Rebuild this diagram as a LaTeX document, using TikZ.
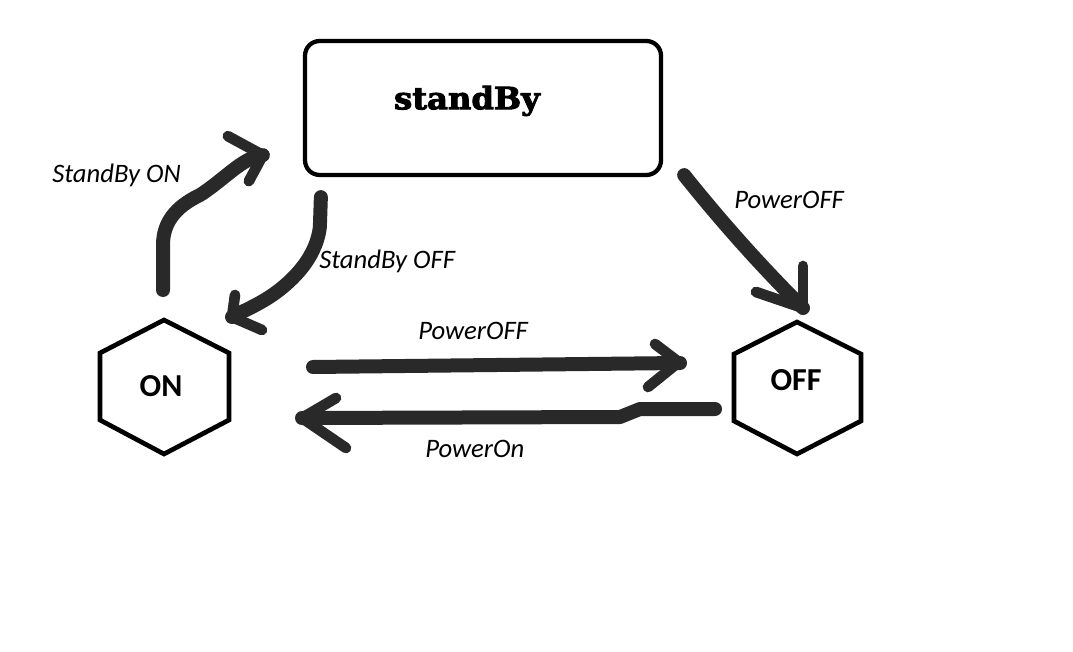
\documentclass[tikz,border=0pt]{standalone}
\usepackage{fontspec}
\setmainfont{Carlito}
\newfontfamily\slabfont[FakeBold=3,FakeStretch=1.05]{DejaVu Serif}
\usetikzlibrary{calc}
\tikzset{
  brush/.style={draw=black!84, line width=10.5pt, line cap=round, line join=round},
  brusharm/.style={draw=black!84, line width=8pt, line cap=round, line join=round},
  statebox/.style={draw=black, line width=3.2pt, rounded corners=11pt, minimum width=356*0.75pt, minimum height=134*0.75pt, inner sep=0pt},
  hexline/.style={draw=black, line width=3.5pt, line join=miter},
  statetext/.style={font=\fontsize{24}{28}\selectfont\bfseries, inner sep=0pt},
  lbl/.style={font=\fontsize{20}{24}\selectfont\itshape, inner sep=0pt, anchor=base west}
}
\begin{document}
\begin{tikzpicture}[x=0.75pt,y=-0.75pt]
\useasboundingbox[fill=white] (0,0) rectangle (1073,652);

% states
\node[statebox] (sb) at (483,108) {};
\node[font=\slabfont\fontsize{23}{27}\selectfont\bfseries, inner sep=0pt] (sbt) at (467,101) {standBy};
\node[statetext] (ON) at (161,386) {ON};
\node[statetext] (OFF) at (796,380) {OFF};

\draw[hexline] ($(ON)+(3,-66)$) -- ++(65,33) -- ++(0,67) -- ++(-65,34) -- ++(-64,-34) -- ++(0,-67) -- cycle;
\draw[hexline] ($(OFF)+(1,-58)$) -- ++(64,32) -- ++(0,67) -- ++(-64,33) -- ++(-63,-33) -- ++(0,-67) -- cycle;

% connector end points
\coordinate (a1s) at ($(ON)+(2,-96)$);
\coordinate (a1t) at ($(sb.south west)+(-40,-22)$);
\coordinate (a2s) at ($(sb.south west)+(18,20)$);
\coordinate (a2t) at ($(ON)+(71,-69)$);
\coordinate (a3s) at ($(sb.south east)+(21,-2)$);
\coordinate (a3t) at ($(OFF)+(7,-72)$);
\coordinate (a4s) at ($(ON)+(152,-19)$);
\coordinate (a4t) at ($(OFF)+(-116,-17)$);
\coordinate (a5s) at ($(OFF)+(-81,29)$);
\coordinate (a5t) at ($(ON)+(141,32)$);

% StandBy ON
\draw[brush] (a1s) -- ++(0,-45) .. controls ++(0,-22) and ++(-25,12) .. ++(37,-50) .. controls ++(25,-16) and ++(-20,2) .. (a1t);
\draw[brusharm] (a1t) -- ++(-35,-19);
\draw[brusharm] (a1t) -- ++(-14,26);
% StandBy OFF
\draw[brush] (a2s) -- ++(-1,30) .. controls ++(-3,25) and ++(18,-15) .. ++(-37,60) .. controls ++(-18,15) and ++(15,-8) .. (a2t);
\draw[brusharm] (a2t) -- ++(3,-22);
\draw[brusharm] (a2t) -- ++(30,13);
% PowerOFF (diagonal)
\draw[brush] (a3s) .. controls ++(40,50) and ++(-40,-40) .. (a3t);
\draw[brusharm] (a3t) -- ++(0,-42);
\draw[brusharm] (a3t) -- ++(-47,-16);
% PowerOFF (horizontal)
\draw[brush] (a4s) -- (a4t);
\draw[brusharm] (a4t) -- ++(-25,-19);
\draw[brusharm] ($(a4t)+(-6,3)$) -- ++(-26,21);
% PowerOn
\draw[brush] (a5s) -- ++(-75,0) -- ++(-20,8) -- (a5t);
\draw[brusharm] (a5t) -- ++(34,-20);
\draw[brusharm] (a5t) -- ++(44,30);

% labels
\node[lbl] at (52,183) {StandBy ON};
\node[lbl] at (319,268) {StandBy OFF};
\node[lbl] at (734,209) {PowerOFF};
\node[lbl] at (418,339) {PowerOFF};
\node[lbl] at (425,457) {PowerOn};
\end{tikzpicture}
\end{document}
